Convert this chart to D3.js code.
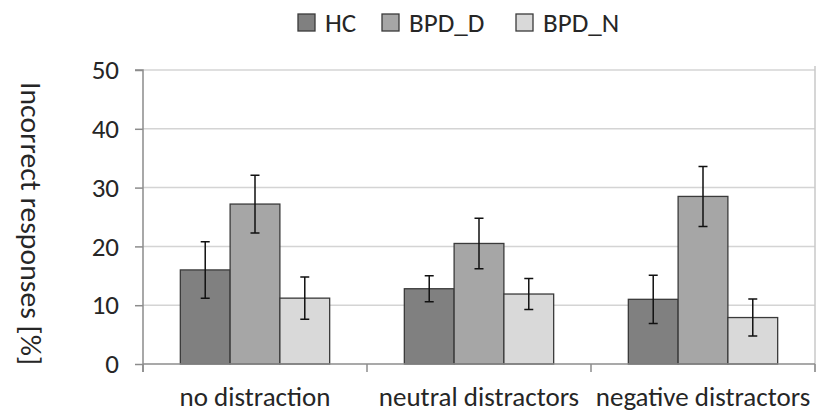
<!DOCTYPE html>
<html><head><meta charset="utf-8">
<script src="https://cdn.jsdelivr.net/npm/d3@7"></script>
<style>
body{margin:0;background:#fff;}
text{font-family:Carlito,Lato,"Open Sans",sans-serif;fill:#262626;}
</style></head>
<body><svg id="c" width="817" height="412"></svg>
<script>
const categories = ["no distraction","neutral distractors","negative distractors"];
const seriesNames = ["HC","BPD_D","BPD_N"];
const seriesColors = ["#808080","#a6a6a6","#d9d9d9"];
const HC = [16.0, 12.8, 11.0];
const HC_err = [4.8, 2.2, 4.1];
const BPD_D = [27.2, 20.5, 28.5];
const BPD_D_err = [4.9, 4.3, 5.1];
const BPD_N = [11.2, 11.9, 7.9];
const BPD_N_err = [3.6, 2.65, 3.15];
const yTicks = [0,10,20,30,40,50];
const yTitle = "Incorrect responses [%]";

const values = [HC, BPD_D, BPD_N];
const errs = [HC_err, BPD_D_err, BPD_N_err];

const svg = d3.select("#c");
const L = 143, R = 815, T = 70, B = 364;
const FS = 27;

const y = d3.scaleLinear().domain([0,50]).range([B,T]);
const x0 = d3.scaleBand().domain(categories).range([L,R]).paddingInner(0).paddingOuter(0);
const bw = x0.bandwidth();
const x1 = d3.scaleBand().domain(seriesNames).range([bw/6, bw*5/6]);

// gridlines
svg.append("g").selectAll("line").data(yTicks.slice(1)).join("line")
  .attr("x1",L).attr("x2",R).attr("y1",d=>y(d)).attr("y2",d=>y(d))
  .attr("stroke","#d4d4d4").attr("stroke-width",1.5);
// right border line
svg.append("line").attr("x1",R).attr("x2",R).attr("y1",T-4).attr("y2",B+8)
  .attr("stroke","#c8c8c8").attr("stroke-width",1.5);

// y axis
const yAxis = d3.axisLeft(y).tickValues(yTicks).tickSize(8).tickPadding(16);
const gy = svg.append("g").attr("transform",`translate(${L},0)`).call(yAxis);
gy.select(".domain").attr("stroke","#8c8c8c").attr("stroke-width",1.5).attr("d",`M-8,${T}H0V${B+8}`);
gy.selectAll(".tick line").attr("stroke","#8c8c8c").attr("stroke-width",1.5);
gy.selectAll(".tick text").style("font-size",FS+"px").attr("fill","#262626");

// bars
const groups = svg.append("g").selectAll("g").data(categories).join("g")
  .attr("transform",d=>`translate(${x0(d)},0)`);
seriesNames.forEach((s,si)=>{
  groups.append("rect")
    .attr("x",x1(s)).attr("width",x1.bandwidth())
    .attr("y",(d,i)=>y(values[si][i])).attr("height",(d,i)=>B-y(values[si][i]))
    .attr("fill",seriesColors[si]).attr("stroke","#3a3a3a").attr("stroke-width",1.3);
});
// error bars
seriesNames.forEach((s,si)=>{
  const cx = x1(s)+x1.bandwidth()/2;
  groups.append("path")
    .attr("d",(d,i)=>{
      const v=values[si][i], e=errs[si][i];
      const t=y(v+e), b=y(v-e);
      return `M${cx},${t}V${b}M${cx-4.5},${t}H${cx+4.5}M${cx-4.5},${b}H${cx+4.5}`;
    })
    .attr("fill","none").attr("stroke","#111").attr("stroke-width",1.5);
});

// x axis
const xAxis = d3.axisBottom(x0).tickSize(0).tickPadding(0);
const gx = svg.append("g").attr("transform",`translate(0,${B})`).call(xAxis);
gx.select(".domain").attr("stroke","#8c8c8c").attr("stroke-width",1.5).attr("d",`M${L},0H${R}`);
gx.selectAll(".tick text").style("font-size",FS+"px").attr("fill","#262626").attr("y",42).attr("dy",0);
// boundary ticks
const bounds = categories.map(c=>x0(c)).concat([R]);
gx.append("g").selectAll("line").data(bounds).join("line")
  .attr("x1",d=>d).attr("x2",d=>d).attr("y1",0).attr("y2",8)
  .attr("stroke","#8c8c8c").attr("stroke-width",1.5);

// y title
svg.append("text").attr("transform","translate(21,223.5) rotate(90)")
  .attr("text-anchor","middle").style("font-size","28px")
  .attr("textLength",283).attr("lengthAdjust","spacingAndGlyphs").text(yTitle);

// legend
const legX = [298, 382, 516];
const lg = svg.append("g").selectAll("g").data(seriesNames).join("g")
  .attr("transform",(d,i)=>`translate(${legX[i]},14)`);
lg.append("rect").attr("width",17).attr("height",17)
  .attr("fill",(d,i)=>seriesColors[i]).attr("stroke","#3a3a3a").attr("stroke-width",1.3);
lg.append("text").attr("x",27).attr("y",18).style("font-size",FS+"px").text(d=>d);
</script></body></html>
